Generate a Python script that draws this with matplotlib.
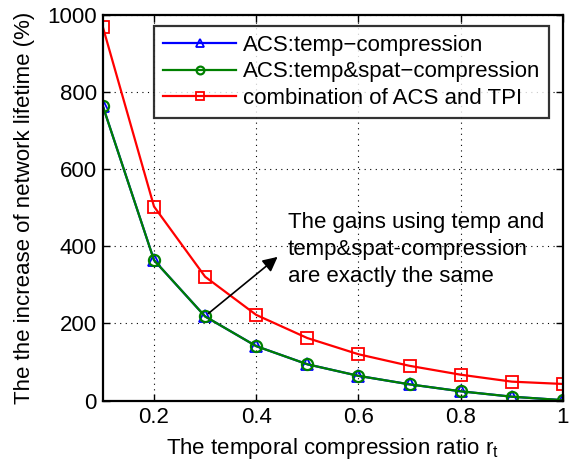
import matplotlib
matplotlib.use("Agg")
import matplotlib.pyplot as plt

plt.rcParams['font.family'] = ['Liberation Sans', 'DejaVu Sans']
plt.rcParams['mathtext.default'] = 'regular'

ratio = [0.1, 0.2, 0.3, 0.4, 0.5, 0.6, 0.7, 0.8, 0.9, 1.0]
temp_comp = [763, 364, 218, 141, 94, 64, 42, 24, 10, 1]
temp_spat_comp = [763, 364, 218, 141, 94, 64, 42, 24, 10, 1]
acs_tpi = [968, 503, 321, 222, 162, 120, 90, 67, 49, 43]
labels = ['ACS:temp\u2212compression', 'ACS:temp&spat\u2212compression',
          'combination of ACS and TPI']
xticks = [0.2, 0.4, 0.6, 0.8, 1.0]
xticklabels = ['0.2', '0.4', '0.6', '0.8', '1']
yticks = [0, 200, 400, 600, 800, 1000]

fig = plt.figure(figsize=(5.78, 4.62), dpi=100)
ax = fig.add_axes([0.178, 0.133, 0.796, 0.835])

ax.plot(ratio, temp_comp, color='#0000ff', lw=1.6, marker='^', ms=8,
        mfc='none', mec='#0000ff', mew=1.3, label=labels[0])
ax.plot(ratio, temp_spat_comp, color='#008000', lw=1.6, marker='o', ms=8,
        mfc='none', mec='#008000', mew=1.6, label=labels[1])
ax.plot(ratio, acs_tpi, color='#ff0000', lw=1.6, marker='s', ms=8,
        mfc='none', mec='#ff0000', mew=1.3, label=labels[2])

ax.set_xlim(0.1, 1.0)
ax.set_ylim(0, 1000)
ax.set_xticks(xticks)
ax.set_xticklabels(xticklabels)
ax.set_yticks(yticks)
ax.tick_params(direction='in', labelsize=16, length=5, width=1, top=True, right=True, pad=4.5)
ax.grid(True, linestyle=(0, (1, 4)), color='black', lw=0.8)
for s in ax.spines.values():
    s.set_linewidth(1.6)

ax.set_xlabel('The temporal compression ratio r$_t$', fontsize=16, labelpad=6)
ax.set_ylabel('The the increase of network lifetime (%)', fontsize=16, labelpad=9)

leg = ax.legend(loc='upper right', bbox_to_anchor=(0.970, 0.971), borderaxespad=0,
                fontsize=16, frameon=True, fancybox=False, edgecolor='black',
                handlelength=3.3, borderpad=0.4, labelspacing=0.25,
                handletextpad=0.3, markerscale=0.7)
leg.get_frame().set_linewidth(1.6)

ax.annotate('', xy=(0.446, 377), xytext=(0.302, 221),
            arrowprops=dict(arrowstyle='-|>', color='black', lw=1.2,
                            mutation_scale=22))
ax.text(0.462, 391, 'The gains using temp and\ntemp&spat-compression\nare exactly the same',
        fontsize=16, va='center', ha='left', linespacing=1.37)

fig.savefig('out.png', dpi=100)
